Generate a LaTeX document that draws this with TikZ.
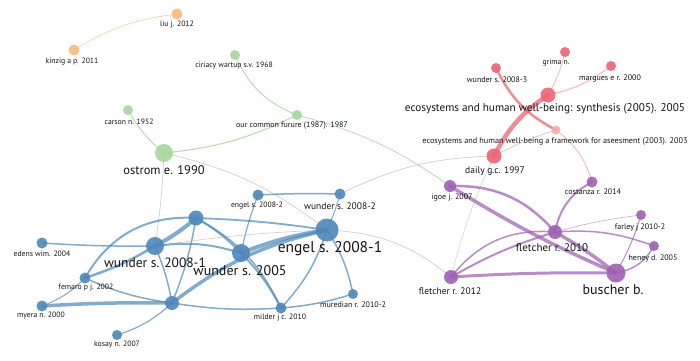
\documentclass[tikz,border=0pt]{standalone}
\usepackage{fontspec}
\setmainfont{PT Sans}
\pgfdeclarelayer{bg}
\pgfsetlayers{bg,main}
\definecolor{cbl}{RGB}{78,135,184}
\definecolor{cpu}{RGB}{158,96,180}
\definecolor{cre}{RGB}{236,100,115}
\definecolor{crl}{RGB}{244,170,178}
\definecolor{cgr}{RGB}{166,214,156}
\definecolor{cor}{RGB}{246,186,128}
\definecolor{cgy}{RGB}{200,200,200}
\definecolor{ctx}{RGB}{20,20,20}
\tikzset{
  nd/.style={circle, inner sep=0pt, fill opacity=0.9, draw=none},
  lb/.style={inner sep=0pt, text=ctx},
  lbs/.style={lb, font=\fontsize{7.7}{8}\selectfont},
  eb/.style={draw=cbl, draw opacity=0.7, line cap=round},
  ep/.style={draw=cpu, draw opacity=0.72, line cap=round},
  er/.style={draw=cre, draw opacity=0.75, line cap=round},
  eg/.style={draw=cgr, draw opacity=0.8, line cap=round},
  ey/.style={draw=cgy, draw opacity=0.9, line cap=round},
}
\begin{document}
\begin{tikzpicture}[x=1pt,y=-1pt]
\useasboundingbox (0,0) rectangle (700,360);
% ---------- nodes ----------
% orange
\node[nd, fill=cor, minimum size=11pt] (liu) at (177,14) {};
\node[nd, fill=cor, minimum size=11pt] (kinzig) at (74,50) {};
% green
\node[nd, fill=cgr, minimum size=10pt] (ciriacy) at (235,55) {};
\node[nd, fill=cgr, minimum size=10pt] (carson) at (128,110) {};
\node[nd, fill=cgr, minimum size=10pt] (ourc) at (297,115) {};
\node[nd, fill=cgr, minimum size=18pt] (ostrom) at (164,153) {};
% red
\node[nd, fill=cre, minimum size=10pt] (w23) at (496,68) {};
\node[nd, fill=cre, minimum size=10pt] (grima) at (565,52) {};
\node[nd, fill=cre, minimum size=10pt] (margues) at (611,66) {};
\node[nd, fill=cre, minimum size=15pt] (synth) at (548,95) {};
\node[nd, fill=crl, minimum size=9pt] (fw) at (556,130) {};
\node[nd, fill=cre, minimum size=15pt] (daily) at (494,156) {};
% purple
\node[nd, fill=cpu, minimum size=12pt] (igoe) at (450,186) {};
\node[nd, fill=cpu, minimum size=11pt] (costanza) at (592,182) {};
\node[nd, fill=cpu, minimum size=14pt] (f10) at (555,232) {};
\node[nd, fill=cpu, minimum size=10pt] (farley) at (641,215) {};
\node[nd, fill=cpu, minimum size=10pt] (heney) at (654,246) {};
\node[nd, fill=cpu, minimum size=14pt] (f12) at (451,277) {};
\node[nd, fill=cpu, minimum size=19pt] (buscher) at (616,273) {};
% blue
\node[nd, fill=cbl, minimum size=11pt] (e22) at (258,195) {};
\node[nd, fill=cbl, minimum size=11pt] (w22) at (340,194) {};
\node[nd, fill=cbl, minimum size=15pt] (top) at (196,218) {};
\node[nd, fill=cbl, minimum size=18pt] (w21) at (155,246) {};
\node[nd, fill=cbl, minimum size=18pt] (w05) at (241,253) {};
\node[nd, fill=cbl, minimum size=23pt] (e21) at (327,230) {};
\node[nd, fill=cbl, minimum size=11pt] (edens) at (42,243) {};
\node[nd, fill=cbl, minimum size=11pt] (femaro) at (85,278) {};
\node[nd, fill=cbl, minimum size=11pt] (myera) at (42,306) {};
\node[nd, fill=cbl, minimum size=14pt] (hub) at (172,303) {};
\node[nd, fill=cbl, minimum size=10pt] (kosay) at (117,335) {};
\node[nd, fill=cbl, minimum size=11pt] (milder) at (281,308) {};
\node[nd, fill=cbl, minimum size=10pt] (mured) at (353,294) {};
% ---------- labels ----------
\node[lbs] (liu-l) at (177,25) {liu j. 2012};
\node[lbs] (kinzig-l) at (72,62) {kinzig a p. 2011};
\node[lbs] (ciriacy-l) at (234,66) {ciriacy wartup s.v. 1968};
\node[lbs] (carson-l) at (129,122) {carson n. 1952};
\node[lb, font=\fontsize{8}{9}\selectfont] (ourc-l) at (292,126) {our common furure (1987). 1987};
\node[lb, font=\fontsize{12.5}{14}\selectfont] (ostrom-l) at (164,170) {ostrom e. 1990};
\node[lb, font=\fontsize{8}{9}\selectfont] (w23-l) at (497,80) {wunder s. 2008-3};
\node[lbs] (grima-l) at (556,63) {grima n.};
\node[lb, font=\fontsize{8}{9}\selectfont] (margues-l) at (610,78) {margues e r. 2000};
\node[lb, font=\fontsize{11.2}{13}\selectfont] (synth-l) at (545,109) {ecosystems and human well-being: synthesis (2005). 2005};
\node[lb, font=\fontsize{8.2}{9}\selectfont] (fw-l) at (555,141) {ecosystems and human well-being a framework for aseesment (2003). 2003};
\node[lb, font=\fontsize{9.5}{11}\selectfont] (daily-l) at (495,171) {daily g.c. 1997};
\node[lb, font=\fontsize{8}{9}\selectfont] (igoe-l) at (452,197) {igoe j. 2007};
\node[lb, font=\fontsize{8}{9}\selectfont] (costanza-l) at (593,192) {costanza r. 2014};
\node[lb, font=\fontsize{11}{13}\selectfont] (f10-l) at (552,248) {fletcher r. 2010};
\node[lb, font=\fontsize{8}{9}\selectfont] (farley-l) at (640,227) {farley j 2010-2};
\node[lb, font=\fontsize{8}{9}\selectfont] (heney-l) at (653,258) {heney d. 2005};
\node[lb, font=\fontsize{9.5}{11}\selectfont] (f12-l) at (450,291) {fletcher r. 2012};
\node[lb, font=\fontsize{14}{16}\selectfont] (buscher-l) at (613,290) {buscher b.};
\node[lbs] (e22-l) at (257,206) {engel s. 2008-2};
\node[lb, font=\fontsize{9.5}{11}\selectfont] (w22-l) at (340,206) {wunder s. 2008-2};
\node[lb, font=\fontsize{13.5}{15}\selectfont] (w21-l) at (155,263) {wunder s. 2008-1};
\node[lb, font=\fontsize{14}{16}\selectfont] (w05-l) at (240,271) {wunder s. 2005};
\node[lb, font=\fontsize{15.5}{18}\selectfont] (e21-l) at (330,249) {engel s. 2008-1};
\node[lbs] (edens-l) at (42,254) {edens wim. 2004};
\node[lbs] (femaro-l) at (86,288) {femaro p j. 2002};
\node[lbs] (myera-l) at (41,316) {myera n. 2000};
\node[lbs] (kosay-l) at (117,345) {kosay n. 2007};
\node[lbs] (milder-l) at (280,318) {milder j c. 2010};
\node[lb, font=\fontsize{8}{9}\selectfont] (mured-l) at (353,305) {muredian r. 2010-2};
% ---------- edges ----------
\begin{pgfonlayer}{bg}
% cross-cluster / gray
\draw[ey, line width=0.7pt] (ostrom.center) to[bend left=12] (e21.center);
\draw[ey, line width=0.6pt] (ostrom.center) to[bend left=3] (w21.center);
\draw[ey, line width=0.7pt] (e21.center) to[bend left=18] (f12.center);
\draw[ey, line width=0.7pt] (daily.center) to[bend right=12] (w22.center);
\draw[ey, line width=0.5pt] (daily.center) to[bend right=5] (f12.center);
\draw[ey, line width=0.6pt] (w21.center) to[bend left=3] (e21.center);
\draw[eg, line width=0.8pt] (ourc.center) to[bend left=10] (igoe.center);
% orange
\draw[draw=cor, draw opacity=0.6, line width=0.8pt] (kinzig.center) to[bend left=12] (liu.center);
% green
\draw[eg, line width=1pt] (carson.center) to[bend right=10] (ostrom.center);
\draw[eg, line width=1.1pt] (ostrom.center) to[bend right=10] (ourc.center);
\draw[eg, line width=1pt] (ciriacy.center) to[bend right=22] (ourc.center);
% red
\draw[er, line width=4.5pt] (daily.center) to[bend left=14] (synth.center);
\draw[er, line width=1pt, draw=crl] (synth.center) to[bend right=8] (grima.center);
\draw[er, line width=1.2pt, draw=crl] (synth.center) to[bend right=12] (margues.center);
\draw[er, line width=2.5pt] (w23.center) to[bend right=18] (fw.center);
\draw[er, line width=0.8pt, draw=crl] (daily.center) to[bend left=5] (fw.center);
\draw[er, line width=1pt, draw=crl] (fw.center) to[bend left=18] (costanza.center);
% purple
\draw[ep, line width=3.5pt] (igoe.center) to[bend right=4] (buscher.center);
\draw[ep, line width=2.5pt] (igoe.center) to[bend left=25] (f10.center);
\draw[ep, line width=3.5pt] (f10.center) to[bend left=4] (buscher.center);
\draw[ep, line width=2pt] (f10.center) to[bend left=25] (costanza.center);
\draw[ep, line width=0.7pt, draw opacity=0.5] (f10.center) to[bend left=4] (farley.center);
\draw[ep, line width=1.5pt] (f10.center) to[bend left=12] (heney.center);
\draw[ep, line width=1.5pt] (f12.center) to[bend left=28] (f10.center);
\draw[ep, line width=2pt] (f12.center) to[bend left=6] (f10.center);
\draw[ep, line width=3pt] (f12.center) to[bend left=2] (buscher.center);
\draw[ep, line width=1.5pt] (buscher.center) to[bend right=25] (heney.center);
\draw[ep, line width=1pt] (buscher.center) to[bend right=6] (farley.center);
% blue
\draw[eb, line width=1.5pt] (e22.center) to[bend left=2] (w22.center);
\draw[eb, line width=1.2pt] (e22.center) to[bend right=4] (w05.center);
\draw[eb, line width=1pt] (w22.center) to[bend left=4] (e21.center);
\draw[eb, line width=4pt] (top.center) to[bend left=6] (w21.center);
\draw[eb, line width=2pt] (top.center) to[bend left=8] (w05.center);
\draw[eb, line width=1.8pt] (top.center) to[bend left=3] (e21.center);
\draw[eb, line width=1.5pt] (top.center) to[bend left=6] (hub.center);
\draw[eb, line width=1.5pt] (top.center) to[bend left=18] (milder.center);
\draw[eb, line width=2pt] (femaro.center) to[bend left=32] (top.center);
\draw[eb, line width=2.5pt] (femaro.center) to[bend right=6] (w21.center);
\draw[eb, line width=1.5pt] (femaro.center) to[bend right=8] (hub.center);
\draw[eb, line width=1pt] (femaro.center) to[bend left=12] (myera.center);
\draw[eb, line width=1.5pt] (edens.center) to[bend right=2] (w21.center);
\draw[eb, line width=3.5pt] (myera.center) to[bend left=2] (hub.center);
\draw[eb, line width=1.2pt] (hub.center) to[bend left=12] (kosay.center);
\draw[eb, line width=3.5pt] (hub.center) to[bend left=12] (e21.center);
\draw[eb, line width=1.5pt] (hub.center) to[bend right=6] (milder.center);
\draw[eb, line width=1.5pt] (milder.center) to[bend right=6] (mured.center);
\draw[eb, line width=1.5pt] (w21.center) to[bend left=6] (hub.center);
\draw[eb, line width=2pt] (w21.center) to[bend left=12] (w05.center);
\draw[eb, line width=4pt] (w05.center) to[bend left=6] (e21.center);
\draw[eb, line width=2pt] (w05.center) to[bend left=8] (milder.center);
\draw[eb, line width=1.5pt] (milder.center) to[bend right=12] (e21.center);
\draw[eb, line width=1.5pt] (mured.center) to[bend right=10] (e21.center);
\end{pgfonlayer}
\end{tikzpicture}
\end{document}
